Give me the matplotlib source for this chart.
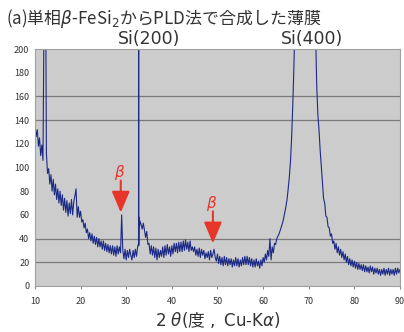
import numpy as np
import matplotlib
matplotlib.use("Agg")
import matplotlib.pyplot as plt

plt.rcParams["font.family"] = ["Noto Sans CJK JP", "DejaVu Sans"]
plt.rcParams["mathtext.fontset"] = "dejavusans"

# 2theta scan, 0.25 deg steps from 10 to 90
scan_theta = np.arange(10, 90.001, 0.25)
scan_counts = [
    136, 126, 132, 118,  125, 110, 119, 106,  240, 330, 112, 95,   # 10-12
    99, 86, 94, 80,      90, 77, 86, 73,      82, 70, 80, 68,      # 13-15
    77, 64, 74, 62,      72, 59, 70, 61,      73, 60, 71, 76,      # 16-18
    82, 58, 67, 58,      63, 54, 56, 49,      53, 45, 48, 40,      # 19-21
    45, 38, 44, 36,      42, 35, 41, 33,      40, 33, 38, 31,      # 22-24
    38, 30, 36, 29,      35, 28, 34, 27,      34, 26, 33, 25,      # 25-27
    34, 27, 33, 28,      60, 30, 23, 31,      22, 30, 24, 31,      # 28-30
    26, 22, 30, 24,      31, 25, 33, 34,      55, 52, 48, 53,      # 31-33
    47, 41, 46, 35,      36, 27, 34, 26,      33, 24, 32, 22,      # 34-36
    31, 24, 30, 25,      33, 24, 34, 26,      35, 27, 33, 25,      # 37-39
    34, 27, 36, 29,      36, 28, 37, 29,      37, 29, 38, 30,      # 40-42
    39, 31, 37, 29,      38, 30, 33, 29,      33, 26, 31, 25,      # 43-45
    32, 24, 31, 26,      30, 23, 28, 24,      29, 22, 30, 24,      # 46-48
    27, 31, 24, 21,      27, 19, 25, 18,      24, 17, 25, 18,      # 49-51
    24, 17, 23, 18,      23, 16, 22, 17,      24, 17, 23, 16,      # 52-54
    22, 17, 24, 18,      25, 18, 25, 18,      24, 17, 23, 16,      # 55-57
    22, 16, 23, 17,      21, 15, 22, 17,      24, 20, 27, 22,      # 58-60
    30, 25, 40, 22,      33, 28, 36, 35,      40, 42, 44, 47,      # 61-63
    50, 53, 57, 62,      67, 73, 82, 92,      105, 125, 152, 185,  # 64-66
    225, 300, 420, 600,  900, 1400, 2200, 3200, 4000, 4200, 3600, 2600,  # 67-69
    1800, 1200, 800, 560, 400, 280, 215, 170, 145, 132, 115, 102,  # 70-72
    88, 74, 70, 59,      58, 50, 49, 42,      44, 36, 38, 31,      # 73-75
    36, 28, 33, 26,      31, 24, 29, 22,      27, 20, 25, 18,      # 76-78
    23, 17, 22, 16,      21, 15, 20, 14,      19, 14, 18, 13,      # 79-81
    18, 12, 17, 12,      16, 11, 17, 12,      16, 10, 15, 11,      # 82-84
    15, 10, 14, 9,       14, 10, 15, 9,       14, 10, 15, 9,       # 85-87
    14, 10, 14, 9,       15, 10, 15, 11,      14,                  # 88-90
]

# finer points across the sharp Si(200) line
si200_theta = [32.70, 32.74, 32.79, 32.90]
si200_counts = [36, 1500, 58, 50]

peak_labels = ["Si(200)", "Si(400)"]
peak_label_x = [35.0, 70.7]
beta_x = [28.8, 49.0]
beta_tip = [62, 36]
grid_levels = [20, 40, 140, 160]

theta = np.concatenate([scan_theta, si200_theta])
counts = np.concatenate([scan_counts, si200_counts])
order = np.argsort(theta)
theta, counts = theta[order], counts[order]

red = "#e8352a"
navy = "#1c2a86"
txt = "#333333"

fig = plt.figure(figsize=(4.04, 3.32), dpi=100)
ax = fig.add_axes([0.0866, 0.1386, 0.9034, 0.7138])
ax.set_facecolor("#cccccc")

for g in grid_levels:
    ax.axhline(g, color="#7a7a7a", lw=0.9, zorder=1)

ax.plot(theta, counts, color=navy, lw=0.8, zorder=2)

ax.set_xlim(10, 90)
ax.set_ylim(0, 200)
ax.set_xticks(range(10, 91, 10))
ax.set_yticks(range(0, 201, 20))
ax.tick_params(axis="y", length=0, labelsize=6.5, colors=txt, pad=4)
ax.tick_params(axis="x", length=2, labelsize=6.5, colors=txt, pad=6,
               color="#888888")
for s in ax.spines.values():
    s.set_color("#a0a0a0")
    s.set_linewidth(0.8)

ax.set_xlabel(r"$\mathrm{2}\ \theta\mathrm{(}$度$\mathrm{\ ,\ Cu}$-$\mathrm{K}\alpha\mathrm{)}$",
              fontsize=12, color=txt, family="Noto Sans CJK JP", labelpad=3)

for lbl, px in zip(peak_labels, peak_label_x):
    ax.text(px, 200.5, lbl, ha="center", va="bottom", fontsize=12.5,
            color=txt, family="DejaVu Sans")

for bx, tip in zip(beta_x, beta_tip):
    ax.annotate("", xy=(bx, tip), xytext=(bx, tip + 27),
                arrowprops=dict(arrowstyle="-|>,head_length=1.3,head_width=0.55",
                                color=red, lw=1.5, mutation_scale=10,
                                shrinkA=0, shrinkB=0), zorder=4)
    ax.text(bx - 0.2, tip + 34, r"$\beta$", ha="center", va="center",
            fontsize=11, color=red, zorder=4)

fig.text(0.015, 0.945, r"(a)単相$\beta$-FeSi$_2$からPLD法で合成した薄膜",
         fontsize=12.2, color=txt, family="Noto Sans CJK JP",
         ha="left", va="center")

fig.savefig("out.png", dpi=100)
